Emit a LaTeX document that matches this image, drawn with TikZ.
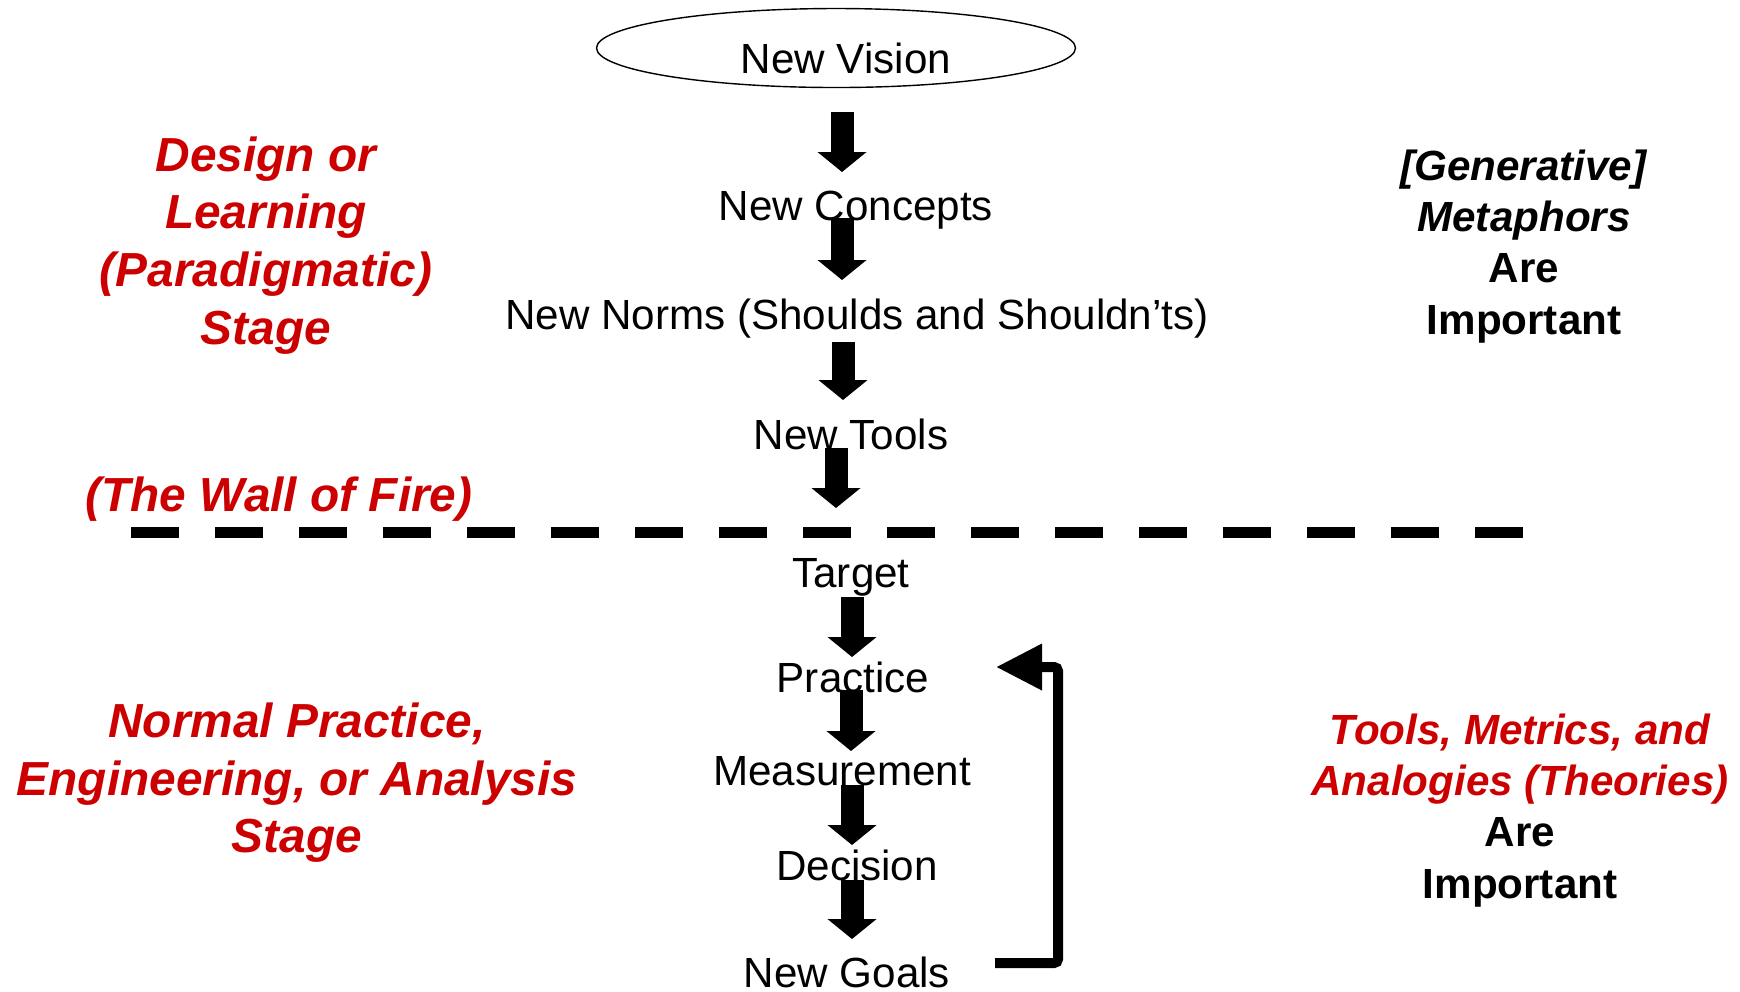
\documentclass[tikz,border=0pt]{standalone}
\usepackage{fontspec}
\setmainfont{Liberation Sans}
\usetikzlibrary{arrows.meta,positioning,shapes.geometric}
\definecolor{stagered}{RGB}{204,0,0}

\begin{document}
\begin{tikzpicture}[x=0.1mm,y=-0.1mm,
    flow/.style={anchor=base,inner sep=0pt,font=\fontsize{12}{14.4}\selectfont},
    stage/.style={anchor=north,inner sep=0pt,align=center,text=stagered,
      font=\fontsize{13.6}{16.4}\selectfont\bfseries\itshape},
    remark/.style={anchor=north,inner sep=0pt,align=center,
      font=\fontsize{12}{14.6}\selectfont\bfseries},
    blockarrow/.style={line width=2.3mm,-{Triangle[length=2mm,width=4.8mm]}},
    feedback/.style={line width=1mm,rounded corners=0.4mm,-{Triangle[length=4.6mm,width=4.4mm]}},
    wall/.style={line width=1.1mm,dash pattern=on 4.8mm off 3.6mm}]
  \useasboundingbox (0,0) rectangle (1740,991);

  % the design stage, above the wall
  \node[draw,ellipse,thin,inner sep=0pt,minimum width=47.9mm,minimum height=7.9mm,
    text height=5mm,text depth=0pt,font=\fontsize{12}{14.4}\selectfont] (vision) at (836,48) {\hspace*{2mm}New Vision};
  \node[flow] (concepts) at (856,220) {New Concepts};
  \node[flow] (norms) at (857,329) {New Norms (Shoulds and Shouldn’ts)};
  \node[flow] (tools) at (851,449) {New Tools};

  % the analysis stage, below it
  \node[flow] (target) at (851,587) {Target};
  \node[flow] (practice) at (853,692) {Practice};
  \node[flow] (measure) at (842,785) {Measurement};
  \node[flow] (decision) at (857,880) {Decision};
  \node[flow] (goals) at (847,987) {New Goals};

  \node[stage] (design) at (266,136) {Design or\\Learning\\(Paradigmatic)\\Stage};
  \node[stage] (fire) at (279,476) {(The Wall of Fire)};
  \node[stage] (normal) at (297,702) {Normal Practice,\\Engineering, or Analysis\\Stage};
  \node[remark] (metaphors) at (1524,149) {\textit{[Generative]}\\\textit{Metaphors}\\Are\\Important};
  \node[remark] (theories) at (1520,713) {\textcolor{stagered}{\itshape Tools, Metrics, and}\\
    \textcolor{stagered}{\itshape Analogies (Theories)}\\Are\\Important};

  \coordinate (wallL) at (131,532);
  \coordinate (wallR) at (1524,532);
  \draw[wall] (wallL) -- (wallR);

  \foreach \n/\x/\t/\b in {1/842/112/172,2/842/218/280,3/843/342/400,4/836/448/508,
      5/852/597/657,6/851/690/751,7/852/785/845,8/852/880/939}{
    \coordinate (top\n) at (\x,\t);
    \coordinate (tip\n) at (\x,\b);
    \draw[blockarrow] (top\n) -- (tip\n);
  }

  \coordinate (loopstart) at (995,963);
  \coordinate (loopend) at (996,667);
  \draw[feedback] (loopstart) -- ++(63,0) |- (loopend);
\end{tikzpicture}
\end{document}
